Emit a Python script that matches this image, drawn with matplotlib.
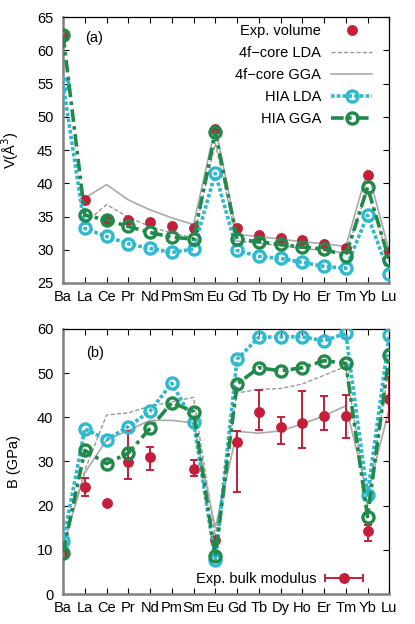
import numpy as np
import matplotlib
matplotlib.use("Agg")
import matplotlib.pyplot as plt
from matplotlib.container import ErrorbarContainer
from matplotlib.legend_handler import HandlerErrorbar

plt.rcParams['font.family'] = ['Liberation Sans', 'DejaVu Sans']
plt.rcParams['font.size'] = 10.5

elements = ['Ba', 'La', 'Ce', 'Pr', 'Nd', 'Pm', 'Sm', 'Eu', 'Gd', 'Tb', 'Dy',
            'Ho', 'Er', 'Tm', 'Yb', 'Lu']

# (a) volumes, A^3
vol_exp = [62.3, 37.5, 34.4, 34.5, 34.2, 33.5, 33.2, 48.1, 33.2, 32.2, 31.8,
           31.4, 30.8, 30.2, 41.3, 29.6]
vol_core_lda = [np.nan, 34.0, 36.8, 34.9, 33.5, 32.5, 31.8, 46.0, 31.3, 31.0,
                30.6, 30.2, 29.9, 29.5, 39.0, 28.2]
vol_core_gga = [np.nan, 37.8, 39.8, 37.5, 36.0, 34.8, 33.8, 48.5, 32.3, 32.0,
                31.6, 31.2, 30.9, 30.5, 42.0, 29.8]
vol_hia_lda = [54.9, 33.2, 32.0, 30.9, 30.2, 29.6, 30.1, 41.5, 29.9, 29.0, 28.7,
               28.1, 27.5, 27.2, 35.2, 26.4]
vol_hia_gga = [62.3, 35.2, 34.5, 33.5, 32.6, 31.9, 31.6, 47.7, 31.6, 31.2, 30.8,
               30.4, 30.1, 29.1, 39.4, 28.4]

# (b) bulk moduli, GPa
b_exp = [9.6, 24.2, 20.5, 29.8, 31.1, np.nan, 28.2, 12.3, 34.3, 41.1, 37.9,
         38.8, 40.3, 40.2, 14.2, 44.1]
b_err_lo = [1.0, 2.1, 0.0, 3.7, 3.0, 0.0, 1.4, 0.9, 11.3, 4.0, 3.9, 5.7,
            3.2, 5.0, 2.1, 5.1]
b_err_hi = [1.0, 2.1, 0.0, 7.2, 2.1, 0.0, 2.1, 0.6, 2.6, 5.1, 2.1, 7.2,
            4.5, 4.9, 1.5, 5.1]
b_core_lda = [10.5, 28.0, 40.5, 41.0, 42.5, 43.5, 44.5, 13.0, 45.5, 46.3, 46.5,
              47.5, 49.5, 51.5, 20.0, 52.0]
b_core_gga = [10.8, 27.4, 34.9, 37.0, 39.3, 39.3, 38.7, 15.0, 36.8, 36.4, 36.9,
              38.5, 40.3, 42.6, 22.5, 42.0]
b_hia_lda = [11.9, 37.4, 34.9, 37.9, 41.4, 47.7, 39.0, 7.7, 53.1, 58.1, 58.2,
             58.2, 57.3, 59.0, 22.4, 58.6]
b_hia_gga = [9.4, 32.5, 29.5, 31.9, 37.5, 43.3, 41.3, 8.6, 47.5, 51.2, 50.5,
             51.2, 52.8, 52.2, 17.5, 54.1]

red = '#c41e3a'
cyan = '#2fb8cf'
green = '#218a4a'
x = np.arange(len(elements))

fig = plt.figure(figsize=(4.15, 6.24), dpi=100)
ax1 = fig.add_axes([0.152, 0.5465, 0.786, 0.426])
ax2 = fig.add_axes([0.152, 0.048, 0.786, 0.425])

hia_lda_kw = dict(color=cyan, ls=(0, (1, 0.6)), lw=2.6, marker='o', ms=8,
                  mfc='none', mec=cyan, mew=2.4)
hia_gga_kw = dict(color=green, ls=(0, (3.5, 1.2, 1, 1.2)), lw=2.6, marker='o',
                  ms=8, mfc='none', mec=green, mew=2.4)

# panel (a)
ax1.plot(x, vol_exp, 'o', color=red, ms=6.8, label='Exp. volume', zorder=2)
ax1.plot(x, vol_core_lda, color='#999999', ls=(0, (3, 1.5)), lw=1.0,
         label='4f\u2212core LDA', zorder=1)
ax1.plot(x, vol_core_gga, color='#aaaaaa', lw=1.2, label='4f\u2212core GGA',
         zorder=1)
ax1.plot(x, vol_hia_lda, label='HIA LDA', zorder=3, **hia_lda_kw)
ax1.plot(x, vol_hia_gga, label='HIA GGA', zorder=4, **hia_gga_kw)
ax1.set_ylim(25, 65)
ax1.set_yticks(np.arange(25, 66, 5))
ax1.set_ylabel('V(Å$^3$)')
ax1.text(0.067, 0.92, '(a)', transform=ax1.transAxes, va='center')
ax1.legend(loc='upper right', bbox_to_anchor=(0.948, 0.975),
           markerfirst=False, frameon=False, numpoints=1,
           handlelength=2.8, handletextpad=0.7, labelspacing=0.55,
           borderaxespad=0, borderpad=0)

# panel (b)
ax2.plot(x, b_core_lda, color='#999999', ls=(0, (3, 1.5)), lw=1.0, zorder=1)
ax2.plot(x, b_core_gga, color='#aaaaaa', lw=1.2, zorder=1)
ax2.plot(x, b_hia_lda, zorder=3, **hia_lda_kw)
ax2.plot(x, b_hia_gga, zorder=4, **hia_gga_kw)
ax2.errorbar(x, b_exp, yerr=[b_err_lo, b_err_hi], fmt='o', color=red, ms=6.8,
             elinewidth=1.4, capsize=3, capthick=1.4, zorder=2)
# legend proxy with a horizontal bar, as in the original
proxy = ax2.errorbar([np.nan], [np.nan], xerr=[1], fmt='o', color=red, ms=6.8,
                     elinewidth=1.4, capsize=3, capthick=1.4,
                     label='Exp. bulk modulus')
ax2.set_ylim(0, 60)
ax2.set_yticks(np.arange(0, 61, 10))
ax2.set_ylabel('B (GPa)')
ax2.text(0.07, 0.91, '(b)', transform=ax2.transAxes, va='center')
ax2.legend(handles=[proxy], loc='lower right', bbox_to_anchor=(0.925, 0.03),
           markerfirst=False, frameon=False, numpoints=1, handlelength=2.8,
           handletextpad=0.5, borderaxespad=0, borderpad=0,
           handler_map={ErrorbarContainer: HandlerErrorbar(xerr_size=1.3)})

for ax in (ax1, ax2):
    ax.set_xlim(0, len(elements) - 1)
    ax.set_xticks(x)
    ax.set_xticklabels(elements)
    ax.tick_params(direction='in', length=4, top=True, right=True)
    ax.tick_params(axis='y', pad=7)
    ax.tick_params(axis='x', pad=5)
    ax.yaxis.set_label_coords(-0.128, 0.5)
    for side in ('left', 'bottom'):
        ax.spines[side].set_color('#808080')
        ax.spines[side].set_linewidth(1.8)
    for side in ('top', 'right'):
        ax.spines[side].set_color('black')
        ax.spines[side].set_linewidth(0.9)

fig.savefig('out.png', dpi=100)
